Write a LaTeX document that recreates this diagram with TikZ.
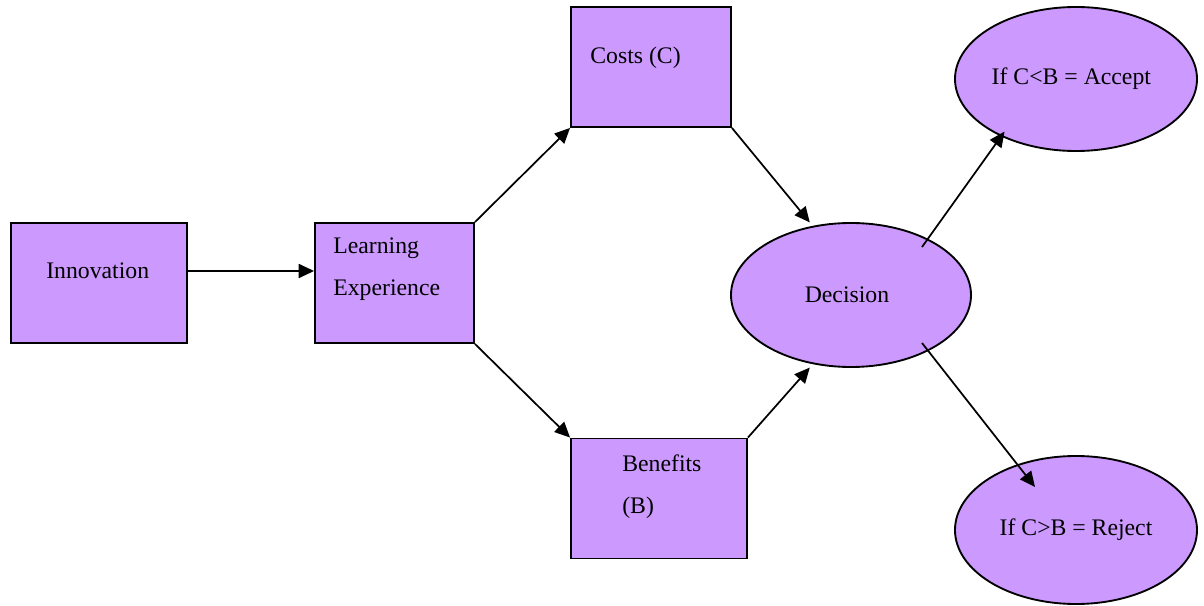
\documentclass[tikz,border=0pt]{standalone}
\usepackage{fontspec}
\setmainfont{Liberation Serif}
\usepackage{tikz}
\usetikzlibrary{arrows.meta}
\usetikzlibrary{positioning}
\usetikzlibrary{shapes.geometric}
\definecolor{lilac}{HTML}{CC99FF}
\tikzstyle{block} = [rectangle, draw, fill=lilac, minimum height=90pt, line width=1.4pt, inner sep=0pt]
\tikzstyle{cloud} = [draw, ellipse, fill=lilac, text centered, line width=1.4pt, inner sep=0pt]
\tikzstyle{txt} = [align=left, inner sep=0pt, anchor=north west]
\tikzstyle{line} = [draw, -{Triangle[length=11.5pt,width=10.5pt]}, line width=1.3pt]

\begin{document}
\begin{tikzpicture}[x=0.75pt, y=-0.75pt, font=\fontsize{17.8}{31.5}\selectfont]
\useasboundingbox (0,0) rectangle (1204,606);
% Place nodes
	\node [block, minimum width=132pt]    (innov)  at (99,283)    {};
	\node [block, minimum width=119.25pt] (learn)  at (394.5,283) {};
	\node [block, minimum width=120pt]    (costs)  at (651,67)    {};
	\node [block, minimum width=132pt]    (benef)  at (659,498.5) {};
	\node [cloud, minimum width=180pt, minimum height=108pt]   (decide) at (851,295)  {Decision\hspace*{6pt}};
	\node [cloud, minimum width=181.5pt, minimum height=108pt] (accept) at (1076,79)  {If C<B = Accept\hspace*{7pt}};
	\node [cloud, minimum width=181.5pt, minimum height=111pt] (reject) at (1076,530) {If C>B = Reject};

% Box texts
	\node [txt, below right=30.5pt and 27pt of innov.north west]  (innovtxt) {Innovation};
	\node [txt, below right=11.5pt and 14.25pt of learn.north west] (learntxt) {Learning\\Experience};
	\node [txt, below right=30.5pt and 15pt of costs.north west]  (coststxt) {Costs (C)};
	\node [txt, below right=12.75pt and 39pt of benef.north west] (beneftxt) {Benefits\\(B)};

	\coordinate (acceptfrom) at (922,247);
	\coordinate (rejectfrom) at (922,343);
	\coordinate (rejectto)   at (1035,487);

% Draw edges
	\path [line] ([yshift=9pt]innov.east) -- ([yshift=9pt]learn.west);
	\path [line] (learn.north east) -- (costs.south west);
	\path [line] (learn.south east) -- (benef.north west);
	\path [line] (costs.south east) -- ([yshift=3pt]decide.121);
	\path [line] (benef.north east) -- ([yshift=-3pt]decide.239);
	\path [line] (acceptfrom) -- ([shift={(2pt,4pt)}]accept.218);
	\path [line] (rejectfrom) -- (rejectto);

\end{tikzpicture}
\end{document}
